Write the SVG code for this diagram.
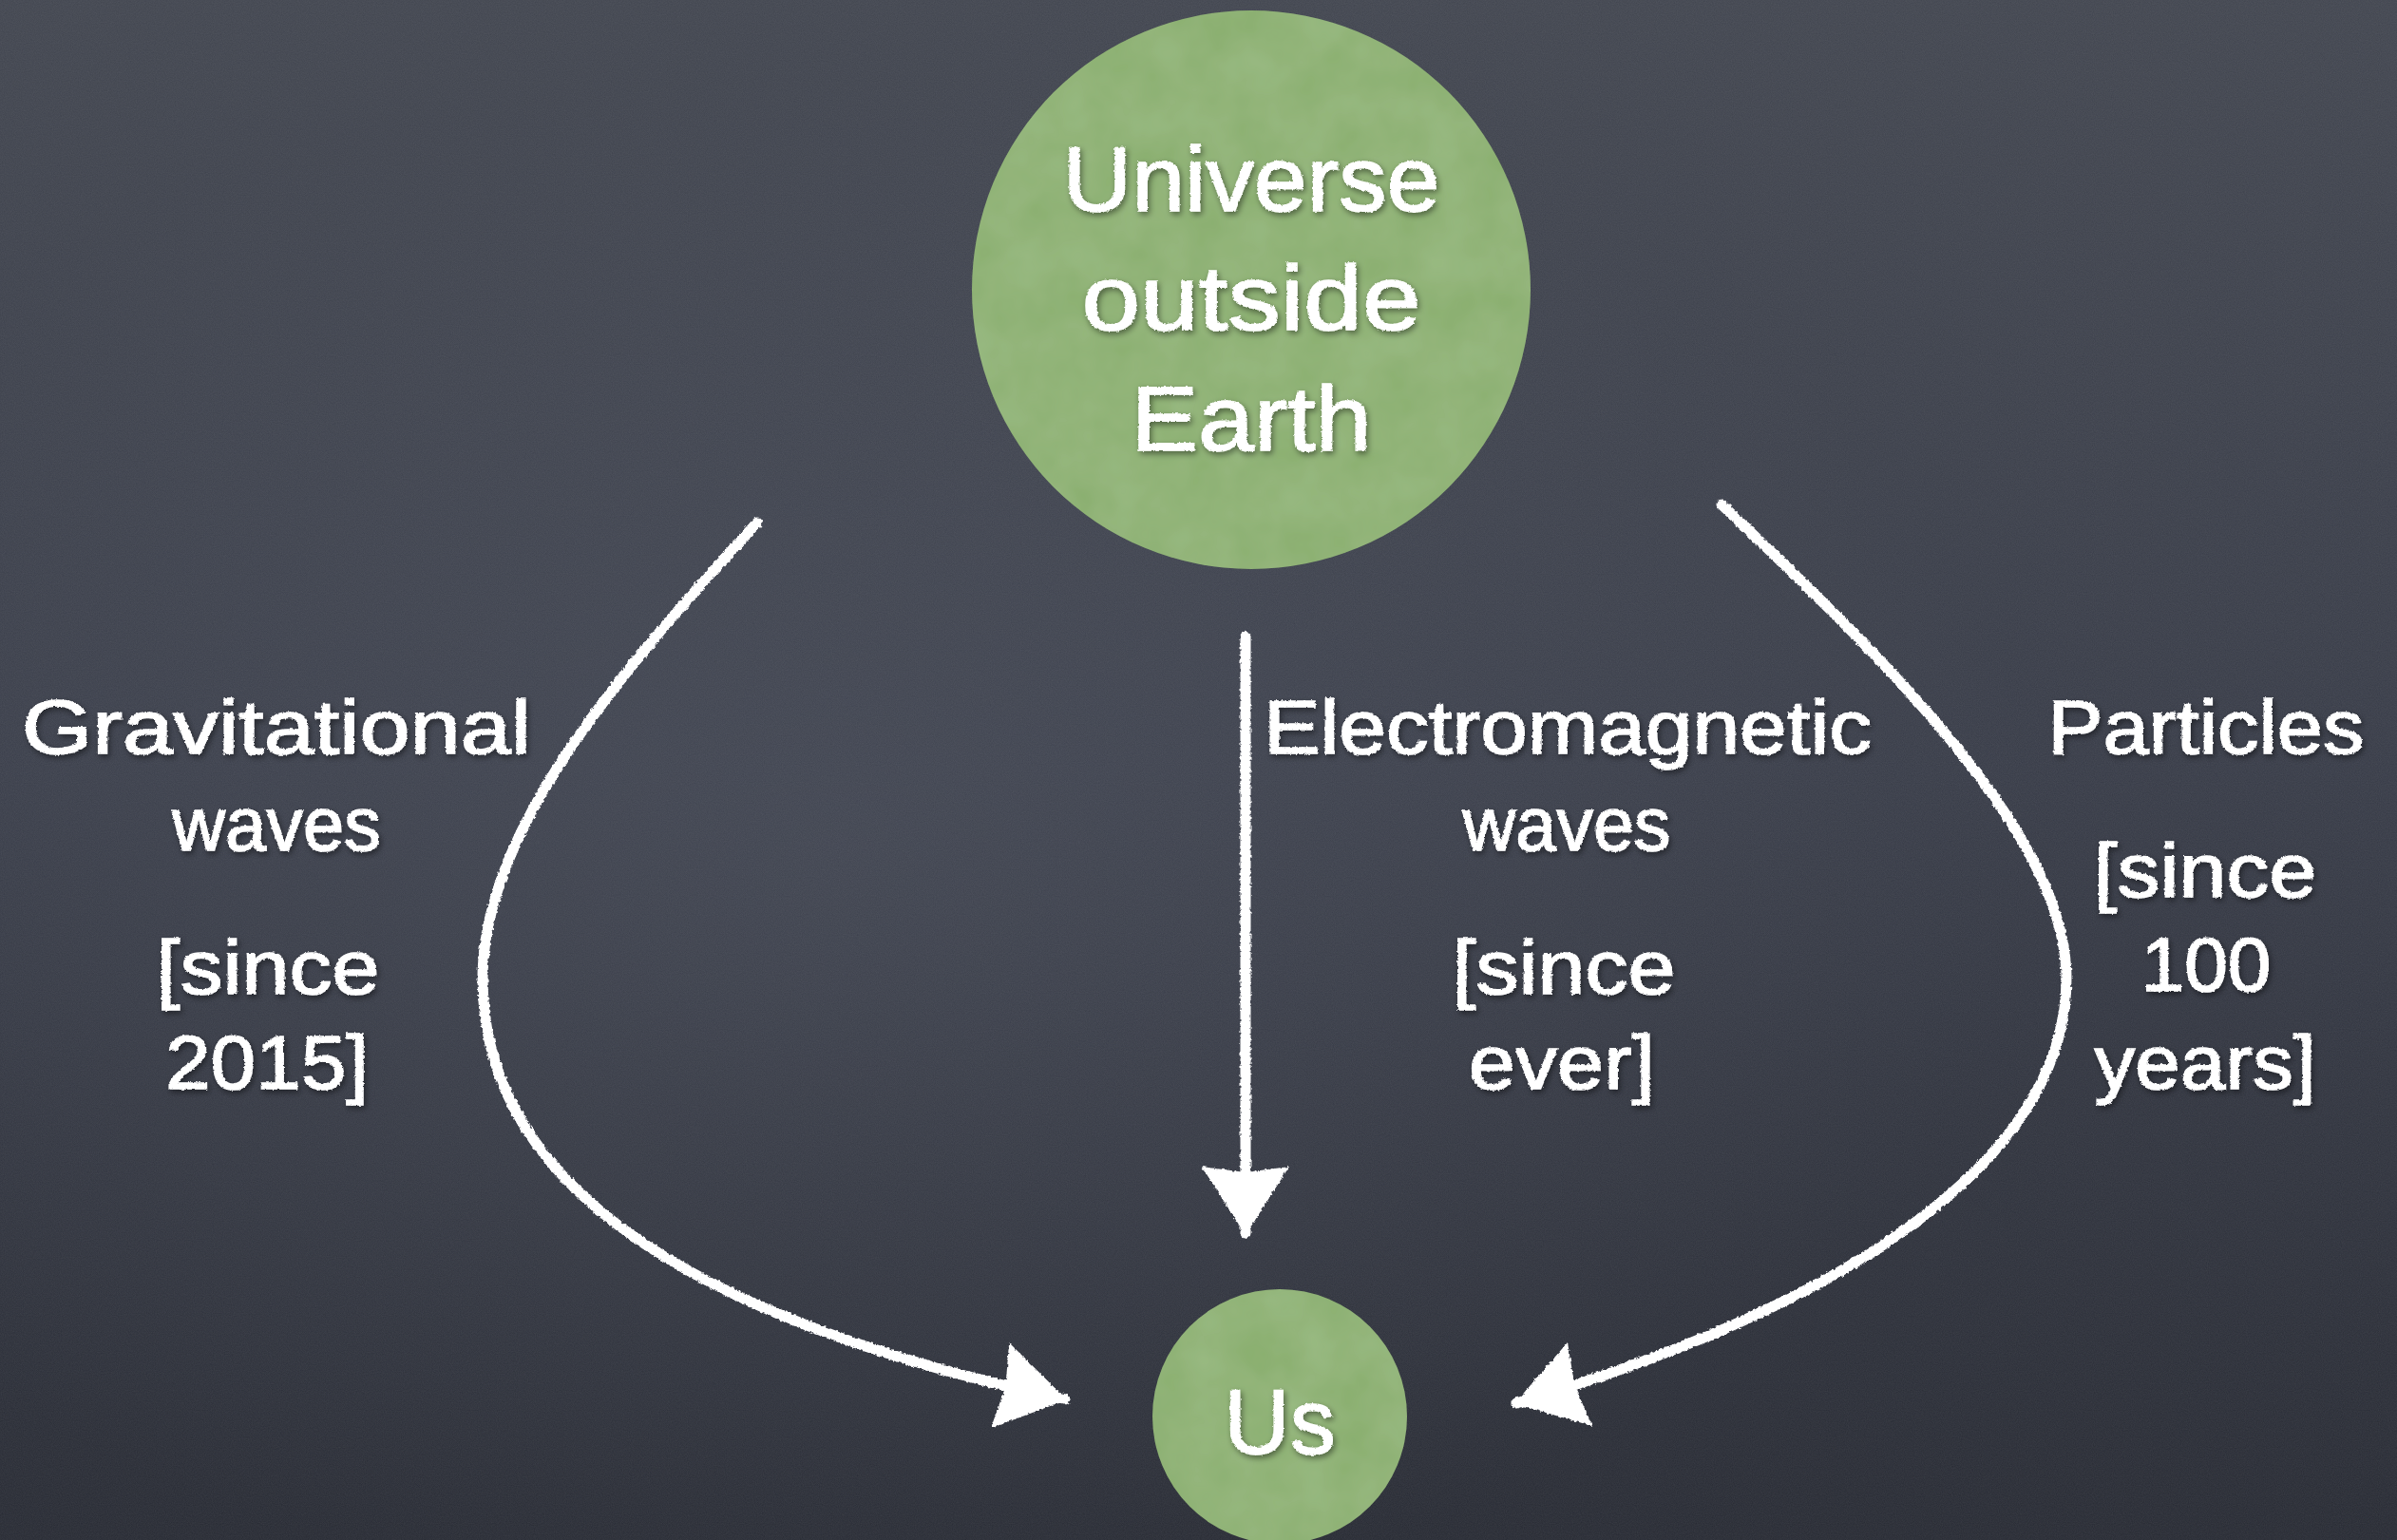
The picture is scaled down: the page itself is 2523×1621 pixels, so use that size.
<svg xmlns="http://www.w3.org/2000/svg" width="2523" height="1621" viewBox="0 0 2523 1621">
<defs>
<style>
.chalk{font-family:"Liberation Sans","DejaVu Sans",sans-serif;fill:#ffffff;stroke:#ffffff;stroke-width:1.5;text-anchor:middle;filter:url(#chalkText)}
.big{font-size:96px}
.lbl{font-size:80px}
.conn{fill:none;stroke:#ffffff;stroke-width:11;stroke-linecap:round;filter:url(#chalkLine)}
.node{fill:#89ae6e;filter:url(#grain)}
</style>
<linearGradient id="bg" x1="0" y1="0" x2="0" y2="1">
<stop offset="0" stop-color="#41454f"/>
<stop offset="0.5" stop-color="#373b47"/>
<stop offset="1" stop-color="#272a33"/>
</linearGradient>
<radialGradient id="spot" cx="0.35" cy="0.55" r="0.5">
<stop offset="0" stop-color="#5a5f6c" stop-opacity="0.3"/>
<stop offset="1" stop-color="#5a5f6c" stop-opacity="0"/>
</radialGradient>
<filter id="noise" filterUnits="userSpaceOnUse" x="0" y="0" width="2523" height="1621">
<feTurbulence type="fractalNoise" baseFrequency="0.9" numOctaves="2" seed="3" result="n"/>
<feColorMatrix in="n" type="matrix" values="0 0 0 0 1  0 0 0 0 1  0 0 0 0 1  0 0 0 0.08 0"/>
</filter>
<filter id="grain" x="-5%" y="-5%" width="110%" height="110%">
<feTurbulence type="fractalNoise" baseFrequency="0.02" numOctaves="3" seed="7" result="t"/>
<feColorMatrix in="t" type="matrix" values="0 0 0 0 0.60  0 0 0 0 0.76  0 0 0 0 0.50  0 0 0 0.2 0" result="tc"/>
<feComposite in="tc" in2="SourceGraphic" operator="in" result="tex"/>
<feMerge><feMergeNode in="SourceGraphic"/><feMergeNode in="tex"/></feMerge>
</filter>
<filter id="chalkText" x="-10%" y="-20%" width="120%" height="140%">
<feTurbulence type="fractalNoise" baseFrequency="0.35" numOctaves="2" seed="5" result="t"/>
<feDisplacementMap in="SourceGraphic" in2="t" scale="3" xChannelSelector="R" yChannelSelector="G" result="d"/>
<feGaussianBlur in="SourceAlpha" stdDeviation="3"/>
<feOffset dx="2" dy="3" result="sh"/>
<feFlood flood-color="#000000" flood-opacity="0.45"/>
<feComposite in2="sh" operator="in" result="shadow"/>
<feMerge><feMergeNode in="shadow"/><feMergeNode in="d"/></feMerge>
</filter>
<filter id="chalkLine" filterUnits="userSpaceOnUse" x="0" y="0" width="2523" height="1621">
<feTurbulence type="fractalNoise" baseFrequency="0.3" numOctaves="2" seed="9" result="t"/>
<feDisplacementMap in="SourceGraphic" in2="t" scale="4" xChannelSelector="R" yChannelSelector="G"/>
</filter>
<marker id="head" markerUnits="userSpaceOnUse" viewBox="0 0 72 92" refX="70" refY="46" markerWidth="72" markerHeight="92" orient="auto">
<path d="M0 0 L72 46 L0 92 L6 46 Z" fill="#ffffff"/>
</marker>
</defs>

<g id="background">
<rect x="0" y="0" width="2523" height="1621" fill="url(#bg)"/>
<rect x="0" y="0" width="2523" height="1621" fill="url(#spot)"/>
<rect x="0" y="0" width="2523" height="1621" filter="url(#noise)"/>
</g>

<g id="connectors">
<path id="conn-grav" class="conn" marker-end="url(#head)" d="M797 550 C640 720 508 880 508 1030 C508 1200 640 1370 1121 1473"/>
<path id="conn-em" class="conn" marker-end="url(#head)" d="M1311 670 L1311 1298"/>
<path id="conn-part" class="conn" marker-end="url(#head)" d="M1812 531 C1990 700 2175 880 2175 1030 C2175 1200 1990 1360 1596 1477"/>
</g>

<g id="node-universe">
<circle class="node" cx="1317" cy="305" r="294"/>
<text class="chalk big" x="1317" y="222" textLength="397" lengthAdjust="spacingAndGlyphs">Universe</text>
<text class="chalk big" x="1317" y="347" textLength="357" lengthAdjust="spacingAndGlyphs">outside</text>
<text class="chalk big" x="1317" y="474" textLength="253" lengthAdjust="spacingAndGlyphs">Earth</text>
</g>

<g id="node-us">
<circle class="node" cx="1347" cy="1491" r="134"/>
<text class="chalk big" x="1347" y="1530">Us</text>
</g>

<g id="label-grav">
<text class="chalk lbl" x="291" y="793" textLength="536" lengthAdjust="spacingAndGlyphs">Gravitational</text>
<text class="chalk lbl" x="291" y="895" textLength="220" lengthAdjust="spacingAndGlyphs">waves</text>
<text class="chalk lbl" x="282" y="1046" textLength="235" lengthAdjust="spacingAndGlyphs">[since</text>
<text class="chalk lbl" x="281" y="1146" textLength="214" lengthAdjust="spacingAndGlyphs">2015]</text>
</g>

<g id="label-em">
<text class="chalk lbl" x="1650" y="793" textLength="640" lengthAdjust="spacingAndGlyphs">Electromagnetic</text>
<text class="chalk lbl" x="1649" y="895" textLength="219" lengthAdjust="spacingAndGlyphs">waves</text>
<text class="chalk lbl" x="1646" y="1046" textLength="235" lengthAdjust="spacingAndGlyphs">[since</text>
<text class="chalk lbl" x="1644" y="1146" textLength="196" lengthAdjust="spacingAndGlyphs">ever]</text>
</g>

<g id="label-part">
<text class="chalk lbl" x="2322" y="793" textLength="333" lengthAdjust="spacingAndGlyphs">Particles</text>
<text class="chalk lbl" x="2321" y="944" textLength="235" lengthAdjust="spacingAndGlyphs">[since</text>
<text class="chalk lbl" x="2322" y="1043" textLength="137" lengthAdjust="spacingAndGlyphs">100</text>
<text class="chalk lbl" x="2321" y="1146" textLength="233" lengthAdjust="spacingAndGlyphs">years]</text>
</g>
</svg>
